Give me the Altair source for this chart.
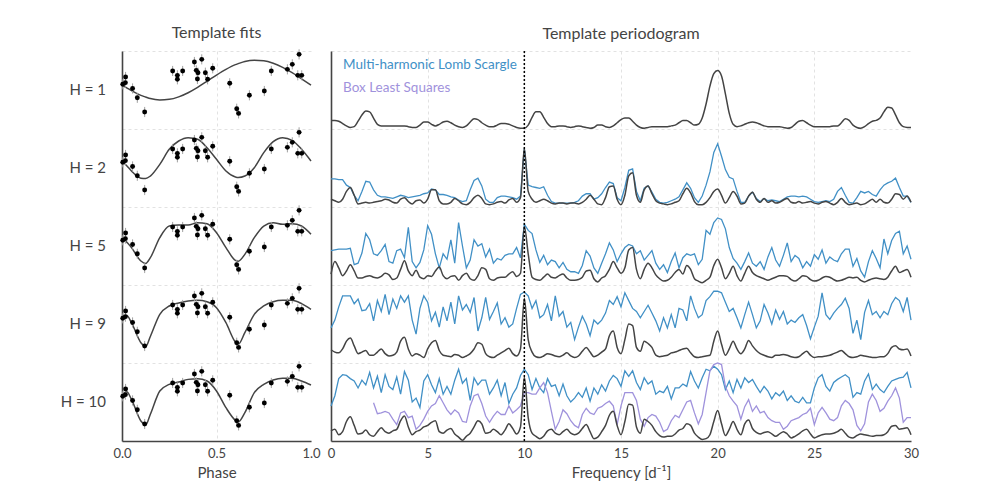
import altair as alt
import pandas as pd

FONT = "Lato"
INK = "#444444"
BLUE = "#4190c6"
PURPLE = "#9f92dc"
GRIDC = "#e2e2e2"

H_LABELS = ["H = 1", "H = 2", "H = 5", "H = 9", "H = 10"]

# ---------------- left panel: phased light curve + template fits ----------------
PHASE_GRID = [0.0, 0.025, 0.05, 0.1, 0.125, 0.15, 0.2, 0.25, 0.3, 0.35, 0.4, 0.45,
              0.5, 0.55, 0.6, 0.615, 0.65, 0.7, 0.75, 0.8, 0.85, 0.9, 0.95, 1.0]
FIT_H1 = [.564, .528, .491, .431, .41, .390, .373, .380, .412, .465, .534, .612,
          .692, .765, .825, .838, .866, .883, .876, .844, .791, .722, .644, .564]
FIT_H2 = [.59, .53, .462, .37, .365, .397, .547, .74, .846, .889, .868, .761,
          .611, .462, .385, .378, .397, .504, .697, .838, .889, .855, .74, .59]
FIT_H5 = [.586, .55, .479, .308, .276, .35, .607, .756, .769, .769, .799, .786,
          .671, .479, .316, .305, .393, .607, .756, .799, .778, .786, .756, .65]
FIT_H9 = [.603, .61, .517, .26, .209, .34, .624, .731, .769, .795, .803, .786,
          .709, .517, .269, .24, .389, .624, .731, .786, .803, .803, .761, .688]
FIT_H10 = [.577, .63, .534, .256, .205, .342, .641, .726, .756, .79, .799, .769,
           .641, .427, .265, .244, .363, .620, .726, .782, .803, .803, .769, .718]
FITS = [FIT_H1, FIT_H2, FIT_H5, FIT_H9, FIT_H10]

PT_PHASE = [0.004, 0.018, 0.019, 0.056, 0.081, 0.120, 0.268, 0.293, 0.293, 0.321,
            0.383, 0.393, 0.402, 0.399, 0.422, 0.441, 0.453, 0.480, 0.570, 0.607,
            0.617, 0.674, 0.753, 0.790, 0.875, 0.901, 0.930, 0.937, 0.951]
PT_MAG = [0.573, 0.594, 0.667, 0.520, 0.400, 0.218, 0.744, 0.688, 0.637, 0.744,
          0.859, 0.752, 0.722, 0.641, 0.893, 0.722, 0.637, 0.778, 0.586, 0.260,
          0.200, 0.432, 0.487, 0.744, 0.765, 0.829, 0.688, 0.957, 0.688]
PT_ERR = 0.065

# ---------------- right panel: periodograms (frequency step 0.2 d^-1) ----------------
FREQ = [round(0.2 * i, 1) for i in range(151)]

TPL_H1 = [11, 11, 10, 7, 4, 2, 3, 10, 18, 23,
          22, 14, 6, 4, 4, 4, 4, 4, 4, 4,
          3, 2, 2, 5, 9, 9, 6, 4, 6, 9,
          10, 8, 5, 3, 2, 4, 9, 13, 12, 8,
          5, 3, 3, 5, 7, 7, 6, 4, 2, 1,
          1, 5, 15, 22, 22, 15, 7, 3, 3, 4,
          4, 3, 2, 3, 4, 3, 2, 1, 2, 5,
          5, 3, 2, 4, 8, 12, 14, 14, 10, 5,
          2, 1, 2, 3, 3, 3, 3, 3, 4, 5,
          8, 11, 11, 8, 5, 6, 14, 32, 55, 71,
          75, 68, 45, 20, 6, 3, 4, 6, 8, 9,
          8, 6, 4, 3, 3, 3, 3, 2, 1, 2,
          6, 10, 11, 8, 5, 3, 3, 3, 3, 3,
          4, 4, 8, 13, 11, 5, 2, 1, 3, 7,
          10, 11, 14, 22, 28, 27, 18, 8, 3, 2,
          2]

TPL_H2 = [10, 8, 6, 10, 20, 25, 15, 4, 5, 6,
          5, 6, 7, 8, 10, 9, 6, 5, 10, 12,
          7, 4, 8, 9, 5, 10, 22, 22, 8, 4,
          4, 6, 11, 8, 4, 3, 6, 12, 15, 11,
          4, 3, 4, 6, 7, 5, 9, 11, 6, 12,
          75, 20, 10, 6, 8, 10, 8, 5, 4, 5,
          5, 4, 5, 5, 4, 6, 10, 15, 10, 4,
          3, 12, 26, 27, 10, 3, 15, 40, 44, 15,
          6, 22, 27, 17, 8, 5, 4, 3, 4, 6,
          8, 17, 24, 18, 7, 3, 3, 6, 12, 20,
          23, 15, 5, 12, 20, 14, 4, 5, 14, 19,
          10, 6, 11, 6, 8, 5, 6, 9, 11, 6,
          5, 7, 5, 6, 7, 5, 4, 6, 7, 5,
          3, 6, 11, 6, 3, 4, 5, 3, 4, 7,
          10, 6, 10, 6, 5, 10, 17, 16, 10, 14,
          6]

LS_H2 = [36, 36, 35, 35, 28, 25, 15, 8, 20, 33,
         32, 22, 15, 13, 13, 12, 11, 13, 15, 14,
         12, 13, 14, 15, 17, 18, 23, 22, 16, 16,
         15, 13, 12, 9, 7, 8, 22, 34, 37, 27,
         10, 6, 6, 12, 14, 14, 13, 12, 10, 14,
         75, 28, 26, 25, 24, 26, 15, 7, 5, 5,
         5, 5, 5, 6, 8, 14, 17, 17, 10, 12,
         17, 25, 32, 30, 12, 8, 25, 47, 49, 20,
         8, 24, 27, 19, 10, 6, 5, 6, 8, 10,
         13, 22, 31, 24, 12, 6, 14, 28, 45, 70,
         81, 65, 48, 38, 36, 20, 6, 6, 14, 19,
         11, 7, 11, 8, 9, 8, 7, 10, 13, 14,
         14, 13, 14, 13, 10, 7, 6, 7, 8, 7,
         10, 20, 25, 15, 6, 5, 12, 20, 18, 20,
         16, 14, 22, 28, 31, 33, 37, 25, 14, 14,
         6]

TPL_H5 = [14, 30, 22, 12, 18, 26, 18, 9, 9, 11,
          12, 10, 9, 11, 15, 13, 7, 9, 20, 31,
          18, 12, 19, 10, 8, 12, 11, 18, 23, 12,
          8, 11, 12, 6, 12, 15, 8, 6, 12, 22,
          20, 8, 6, 9, 10, 10, 14, 17, 11, 15,
          75, 40, 10, 7, 6, 10, 14, 10, 9, 12,
          14, 9, 6, 6, 7, 10, 18, 19, 8, 4,
          9, 12, 20, 30, 22, 15, 22, 45, 48, 20,
          8, 20, 28, 22, 13, 8, 5, 6, 10, 16,
          20, 14, 25, 20, 8, 5, 3, 6, 10, 25,
          33, 22, 8, 15, 24, 12, 5, 15, 24, 16,
          12, 10, 8, 6, 8, 10, 12, 12, 11, 7,
          5, 8, 12, 11, 7, 5, 6, 9, 11, 10,
          7, 5, 6, 8, 10, 9, 10, 6, 4, 6,
          8, 9, 8, 7, 10, 18, 24, 16, 18, 20,
          10]

LS_H5 = [44, 45, 46, 46, 46, 47, 26, 28, 41, 66,
         58, 40, 38, 44, 52, 30, 28, 44, 46, 35,
         74, 30, 22, 29, 45, 76, 65, 40, 22, 40,
         33, 58, 28, 80, 50, 22, 32, 58, 50, 53,
         36, 46, 28, 34, 32, 38, 40, 40, 48, 35,
         78, 70, 66, 45, 29, 38, 26, 32, 30, 22,
         29, 20, 17, 17, 15, 25, 44, 37, 22, 15,
         28, 40, 54, 45, 30, 40, 48, 52, 50, 40,
         44, 32, 38, 44, 28, 20, 26, 16, 30, 41,
         22, 35, 40, 38, 40, 26, 33, 70, 65, 80,
         86, 84, 72, 48, 34, 28, 20, 30, 41, 28,
         24, 30, 20, 36, 48, 32, 24, 38, 54, 30,
         38, 34, 22, 30, 24, 39, 33, 45, 28, 36,
         32, 30, 40, 46, 46, 24, 34, 18, 10, 30,
         44, 34, 22, 59, 40, 57, 66, 69, 40, 50,
         33]

TPL_H9 = [17, 14, 13, 18, 28, 32, 22, 12, 14, 16,
          10, 10, 14, 18, 12, 9, 10, 14, 28, 33,
          18, 9, 12, 10, 7, 18, 26, 29, 16, 10,
          9, 8, 11, 10, 7, 9, 12, 18, 26, 24,
          12, 8, 7, 10, 13, 16, 19, 12, 9, 18,
          83, 30, 14, 8, 7, 9, 12, 11, 9, 8,
          10, 13, 9, 7, 9, 15, 20, 14, 8, 10,
          14, 18, 35, 41, 20, 12, 30, 50, 48, 20,
          15, 28, 25, 20, 10, 8, 9, 10, 13, 14,
          16, 18, 19, 13, 8, 7, 8, 9, 10, 28,
          41, 24, 10, 18, 28, 18, 12, 18, 29, 22,
          16, 12, 10, 8, 7, 10, 10, 11, 10, 8,
          7, 8, 12, 15, 10, 7, 8, 8, 9, 10,
          12, 14, 16, 12, 8, 7, 8, 10, 9, 8,
          7, 7, 8, 8, 12, 20, 22, 18, 17, 18,
          9]

LS_H9 = [45, 55, 72, 86, 86, 86, 76, 82, 67, 68,
         76, 54, 80, 66, 88, 62, 82, 70, 86, 78,
         86, 55, 37, 70, 86, 78, 54, 65, 46, 72,
         54, 78, 50, 86, 68, 75, 65, 84, 41, 58,
         84, 56, 66, 77, 50, 58, 46, 50, 70, 88,
         91, 86, 70, 80, 58, 62, 75, 54, 86, 60,
         66, 46, 52, 30, 46, 60, 50, 35, 55, 50,
         55, 64, 80, 75, 85, 72, 90, 80, 70, 66,
         58, 66, 74, 64, 54, 41, 58, 45, 62, 45,
         70, 68, 54, 86, 70, 58, 62, 80, 85, 92,
         92, 90, 78, 66, 70, 58, 45, 62, 78, 62,
         45, 54, 75, 64, 50, 68, 56, 66, 50, 55,
         52, 58, 62, 48, 31, 46, 60, 90, 62, 56,
         64, 70, 75, 83, 70, 38, 55, 30, 65, 80,
         62, 66, 58, 66, 62, 76, 84, 80, 66, 84,
         55]

TPL_H10 = [13, 15, 8, 12, 25, 31, 20, 9, 10, 14,
           8, 6, 12, 17, 12, 10, 13, 15, 26, 32,
           18, 8, 12, 14, 18, 20, 24, 26, 12, 10,
           14, 16, 9, 5, 1, 6, 10, 18, 26, 22,
           10, 11, 15, 12, 8, 14, 22, 16, 9, 18,
           82, 30, 10, 6, 3, 6, 13, 15, 10, 8,
           12, 15, 10, 8, 10, 16, 21, 12, 3, 5,
           12, 20, 33, 38, 20, 8, 25, 47, 46, 18,
           10, 28, 25, 20, 12, 7, 5, 6, 6, 9,
           14, 16, 22, 20, 10, 5, 2, 3, 8, 25,
           39, 22, 7, 15, 25, 15, 8, 22, 27, 16,
           11, 9, 11, 12, 9, 6, 9, 12, 9, 4,
           6, 9, 13, 15, 9, 4, 6, 8, 9, 9,
           10, 12, 15, 10, 5, 4, 7, 9, 8, 7,
           6, 7, 7, 8, 12, 19, 20, 15, 16, 17,
           8]

LS_H10 = [45, 58, 80, 85, 84, 80, 77, 68, 78, 72,
          88, 68, 83, 62, 85, 70, 66, 82, 60, 89,
          78, 50, 55, 43, 77, 85, 72, 62, 80, 60,
          70, 60, 78, 92, 74, 80, 52, 81, 72, 78,
          78, 60, 68, 78, 58, 75, 48, 60, 68, 84,
          92, 85, 66, 80, 68, 62, 80, 70, 72, 58,
          73, 58, 50, 55, 62, 56, 68, 51, 68, 60,
          72, 64, 77, 84, 80, 70, 90, 83, 90, 75,
          66, 81, 73, 77, 60, 64, 62, 70, 54, 68,
          68, 73, 70, 89, 77, 68, 81, 92, 90, 96,
          92, 85, 66, 77, 62, 79, 68, 81, 75, 79,
          70, 62, 70, 64, 54, 62, 58, 64, 52, 58,
          51, 49, 56, 49, 49, 68, 81, 85, 70, 64,
          75, 79, 82, 85, 81, 56, 62, 60, 77, 86,
          66, 73, 66, 62, 70, 77, 79, 81, 82, 88,
          68]

# Box Least Squares (bottom row), starts at 2.2 d^-1
FREQ_BLS = FREQ[11:]
BLS_H10 = [49, 35, 36, 38, 36, 28, 21, 36, 38,
           30, 32, 15, 20, 28, 38, 45, 48, 58, 49,
           40, 34, 40, 36, 25, 24, 45, 58, 60, 48,
           32, 24, 32, 38, 34, 34, 45, 36, 40, 45,
           62, 62, 60, 60, 68, 75, 62, 38, 15, 25,
           40, 35, 26, 20, 17, 34, 42, 36, 34, 42,
           44, 48, 51, 45, 21, 45, 62, 62, 62, 52,
           28, 19, 30, 34, 32, 24, 12, 15, 26, 33,
           30, 40, 50, 52, 36, 22, 34, 62, 90, 98,
           100, 98, 70, 58, 51, 45, 28, 44, 53, 38,
           45, 36, 38, 30, 26, 24, 24, 15, 19, 26,
           28, 30, 34, 36, 42, 21, 36, 43, 36, 28,
           26, 30, 45, 52, 48, 40, 20, 13, 22, 50,
           60, 52, 38, 42, 51, 58, 68, 55, 24, 30,
           30]

TPL = [TPL_H1, TPL_H2, TPL_H5, TPL_H9, TPL_H10]
LS = [None, LS_H2, LS_H5, LS_H9, LS_H10]

# ---------------- tables ----------------
curve_df = pd.DataFrame([
    {"H": lab, "phase": p, "y": 4 - r + v}
    for r, (lab, vals) in enumerate(zip(H_LABELS, FITS))
    for p, v in zip(PHASE_GRID, vals)
])
pts_df = pd.DataFrame([
    {"H": lab, "phase": p, "y": 4 - r + m, "lo": 4 - r + m - PT_ERR, "hi": 4 - r + m + PT_ERR}
    for r, lab in enumerate(H_LABELS)
    for p, m in zip(PT_PHASE, PT_MAG)
])
lab_df = pd.DataFrame({"H": H_LABELS, "y": [4.5 - r for r in range(5)]})

tpl_df = pd.DataFrame([
    {"H": lab, "freq": f, "y": 4 - r + v / 100}
    for r, (lab, vals) in enumerate(zip(H_LABELS, TPL))
    for f, v in zip(FREQ, vals)
])
ls_df = pd.DataFrame([
    {"H": lab, "freq": f, "y": 4 - r + v / 100}
    for r, (lab, vals) in enumerate(zip(H_LABELS, LS)) if vals is not None
    for f, v in zip(FREQ, vals)
])
bls_df = pd.DataFrame({"freq": FREQ_BLS, "y": [v / 100 for v in BLS_H10]})
true_df = pd.DataFrame({"freq": [10.0]})

# ---------------- encodings ----------------
yscale = alt.Scale(domain=[0, 5], nice=False, zero=False)
yaxis = alt.Axis(values=[0, 1, 2, 3, 4, 5], labels=False, ticks=False, title=None)

xP = alt.X("phase:Q", scale=alt.Scale(domain=[0, 1], nice=False, zero=False),
           axis=alt.Axis(values=[0, 0.5, 1], format=".1f", title="Phase", labelFlush=False,
                         gridOpacity={"condition": {"test": "datum.value >= 1", "value": 0},
                                      "value": 1}))
xF_scale = alt.Scale(domain=[0, 30], nice=False, zero=False)
xF_axis = alt.Axis(values=[0, 5, 10, 15, 20, 25, 30], title="Frequency [d⁻¹]", labelFlush=False,
                   gridOpacity={"condition": {"test": "datum.value >= 30", "value": 0},
                                "value": 1})
xF = alt.X("freq:Q", scale=xF_scale, axis=xF_axis)

fits = alt.Chart(curve_df).mark_line(color=INK, strokeWidth=1.5, interpolate="monotone").encode(
    x=xP, y=alt.Y("y:Q", scale=yscale, axis=yaxis), detail="H:N")
errs = alt.Chart(pts_df).mark_rule(color="#a0a0a0", strokeWidth=1).encode(
    x=xP, y=alt.Y("lo:Q", scale=yscale, axis=yaxis), y2="hi:Q")
dots = alt.Chart(pts_df).mark_circle(color="black", size=24, opacity=1).encode(
    x=xP, y=alt.Y("y:Q", scale=yscale, axis=yaxis))
hlab = alt.Chart(lab_df).mark_text(align="right", baseline="middle", fontSize=15,
                                   font=FONT, color=INK).encode(
    x=alt.value(-16), y=alt.Y("y:Q", scale=yscale, axis=yaxis), text="H:N")

left = alt.layer(fits, errs, dots, hlab).properties(
    width=189, height=390,
    title=alt.TitleParams("Template fits", fontSize=16, font=FONT, color=INK,
                          fontWeight="normal", anchor="middle", offset=8))

ls_lines = alt.Chart(ls_df).mark_line(color=BLUE, strokeWidth=1.3).encode(
    x=xF, y=alt.Y("y:Q", scale=yscale, axis=yaxis), detail="H:N")
bls_line = alt.Chart(bls_df).mark_line(color=PURPLE, strokeWidth=1.3).encode(
    x=xF, y=alt.Y("y:Q", scale=yscale, axis=yaxis))
tpl_lines = alt.Chart(tpl_df).mark_line(color=INK, strokeWidth=1.5, interpolate="monotone").encode(
    x=xF, y=alt.Y("y:Q", scale=yscale, axis=yaxis), detail="H:N")
true_line = alt.Chart(true_df).mark_rule(color="black", strokeDash=[2, 2], strokeWidth=1.5).encode(
    x=xF)
leg1 = alt.Chart(pd.DataFrame({"t": ["Multi-harmonic Lomb Scargle"]})).mark_text(
    align="left", baseline="middle", fontSize=13.5, font=FONT, color=BLUE).encode(
    x=alt.value(12), y=alt.value(14), text="t:N")
leg2 = alt.Chart(pd.DataFrame({"t": ["Box Least Squares"]})).mark_text(
    align="left", baseline="middle", fontSize=13.5, font=FONT, color=PURPLE).encode(
    x=alt.value(12), y=alt.value(37), text="t:N")

right = alt.layer(ls_lines, bls_line, tpl_lines, true_line, leg1, leg2).properties(
    width=580, height=390,
    title=alt.TitleParams("Template periodogram", fontSize=16, font=FONT, color=INK,
                          fontWeight="normal", anchor="middle", offset=8))

chart = alt.hconcat(left, right, spacing=20, bounds="flush").properties(
    padding={"left": 52, "top": 16, "right": 5, "bottom": 5}
).configure_view(stroke=None).configure_axis(
    grid=True, gridColor=GRIDC, gridDash=[3, 3], gridWidth=1,
    ticks=False, domainColor=INK, domainWidth=1.6,
    labelColor=INK, labelFont=FONT, labelFontSize=13, labelPadding=6,
    titleColor=INK, titleFont=FONT, titleFontSize=15, titleFontWeight="normal",
    titlePadding=5
)

chart.save("out.html", embed_options={"renderer": "svg", "actions": False})
